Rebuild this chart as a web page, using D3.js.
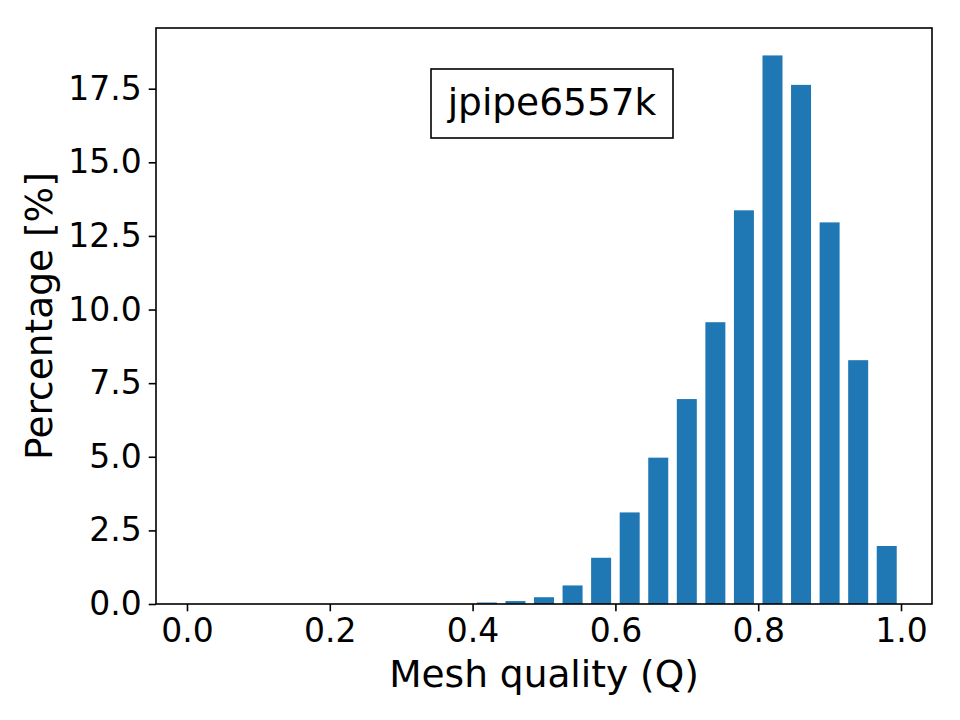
<!DOCTYPE html>
<html>
<head>
<meta charset="utf-8">
<script src="https://cdn.jsdelivr.net/npm/d3@7"></script>
<style>
    body { margin: 0; background: #fff; }
    text { font-family: "DejaVu Sans", sans-serif; fill: #000; }
</style>
</head>
<body>
<svg id="chart"></svg>
<script>
// histogram data: bin left edges (width 0.04) and percentage per bin
const binStarts = [0.00, 0.04, 0.08, 0.12, 0.16, 0.20, 0.24, 0.28, 0.32, 0.36,
    0.40, 0.44, 0.48, 0.52, 0.56, 0.60, 0.64, 0.68, 0.72, 0.76,
    0.80, 0.84, 0.88, 0.92, 0.96];
const percentages = [0, 0, 0, 0, 0, 0, 0, 0, 0, 0,
    0.05, 0.10, 0.23, 0.63, 1.57, 3.11, 4.97, 6.96, 9.57, 13.37,
    18.63, 17.63, 12.96, 8.28, 1.97];
const binWidth = 0.04;
const xTicks = [0.0, 0.2, 0.4, 0.6, 0.8, 1.0];
const yTicks = [0.0, 2.5, 5.0, 7.5, 10.0, 12.5, 15.0, 17.5];
const meshName = "jpipe6557k";

// set the dimensions and margins of the graph
var margin = { top: 28, right: 28, bottom: 116, left: 156 },
    width = 960 - margin.left - margin.right,
    height = 720 - margin.top - margin.bottom;

const svg = d3.select("#chart").attr("width", 960).attr("height", 720);
const g = svg.append("g")
    .attr("transform", "translate(" + margin.left + "," + margin.top + ")");

// bars occupy 70% of each bin, matplotlib style 5% margins
const rw = 0.7;
const lo = binStarts[0] + binWidth * (1 - rw) / 2;
const hi = binStarts[binStarts.length - 1] + binWidth * (1 + rw) / 2;
const pad = (hi - lo) * 0.05;
var x = d3.scaleLinear().domain([lo - pad, hi + pad]).range([0, width]);
var y = d3.scaleLinear().domain([0, d3.max(percentages) * 1.05]).range([height, 0]);

const data = binStarts.map((s, i) => ({ start: s, value: percentages[i] }));

g.selectAll("rect.bar")
    .data(data)
    .join("rect")
    .attr("class", "bar")
    .attr("x", (d) => x(d.start + binWidth * (1 - rw) / 2))
    .attr("width", (d) => x(d.start + binWidth * (1 + rw) / 2) - x(d.start + binWidth * (1 - rw) / 2))
    .attr("y", (d) => y(d.value))
    .attr("height", (d) => height - y(d.value))
    .attr("fill", "#1f77b4");

// axes
const xAxis = g.append("g")
    .attr("transform", `translate(0,${height})`)
    .call(d3.axisBottom(x).tickValues(xTicks).tickFormat(d3.format(".1f")).tickSize(7.3).tickPadding(5));
const yAxis = g.append("g")
    .call(d3.axisLeft(y).tickValues(yTicks).tickFormat(d3.format(".1f")).tickSize(7.3).tickPadding(7));

[xAxis, yAxis].forEach((a) => {
    a.select(".domain").remove();
    a.selectAll(".tick line").attr("stroke", "#000").attr("stroke-width", 1.6);
    a.selectAll(".tick text").style("font-size", "33px").attr("fill", "#000");
});
xAxis.selectAll(".tick text").attr("dy", "0.78em");

// frame
g.append("rect")
    .attr("width", width)
    .attr("height", height)
    .attr("fill", "none")
    .attr("stroke", "#000")
    .attr("stroke-width", 1.6);

// labels
svg.append("text")
    .attr("x", margin.left + width / 2)
    .attr("y", 687)
    .attr("text-anchor", "middle")
    .style("font-size", "37.5px")
    .text("Mesh quality (Q)");

svg.append("text")
    .attr("transform", `translate(52,${margin.top + height / 2}) rotate(-90)`)
    .attr("text-anchor", "middle")
    .style("font-size", "37.5px")
    .text("Percentage [%]");

// name box
svg.append("rect")
    .attr("x", 431)
    .attr("y", 69)
    .attr("width", 242)
    .attr("height", 69)
    .attr("fill", "#fff")
    .attr("stroke", "#000")
    .attr("stroke-width", 1.6);
svg.append("text")
    .attr("x", 552)
    .attr("y", 115)
    .attr("text-anchor", "middle")
    .style("font-size", "37.5px")
    .text(meshName);
</script>
</body>
</html>
